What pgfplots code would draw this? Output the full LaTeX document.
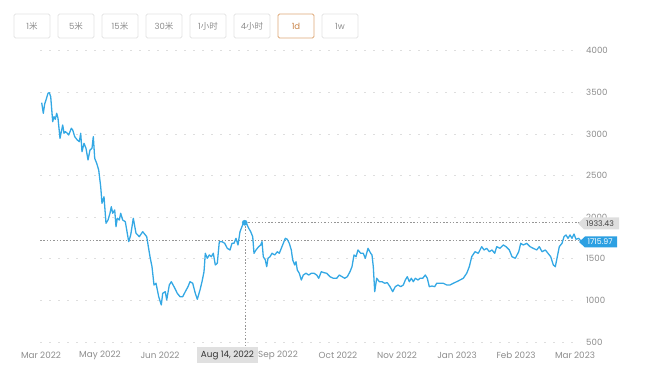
\documentclass[border=0pt]{standalone}
\usepackage{pgfplots}
\pgfplotsset{compat=1.18}
\usepackage{fontspec}
\setmainfont{Poppins}
\newfontfamily\cjk{Noto Sans CJK SC}
\definecolor{linecol}{RGB}{52,168,228}
\definecolor{tagblue}{RGB}{45,160,226}
\definecolor{txt}{RGB}{140,140,140}
\definecolor{gridc}{RGB}{222,222,222}
\definecolor{refc}{RGB}{150,150,150}
\definecolor{btnb}{RGB}{228,228,228}
\definecolor{orangeb}{RGB}{222,168,118}
\definecolor{oranget}{RGB}{200,130,70}
\newcommand{\px}[2]{({#1pt},{374pt-#2pt})}
\begin{document}
\begin{tikzpicture}
\path[use as bounding box] (0,0) rectangle (660pt,374pt);
\begin{axis}[scale only axis, width=660pt, height=374pt,
  xmin=0, xmax=660, ymin=115.385, ymax=4610.58,
  axis lines=none, ticks=none, clip=false]
% grid lines
\foreach \v in {500,1000,...,4000}{
  \edef\tmp{\noexpand\draw[gridc, line width=0.9pt, dash pattern=on 2pt off 7pt] (axis cs:40,\v) -- (axis cs:580,\v);}
  \tmp
}
% reference lines
\draw[refc, line width=0.9pt, dash pattern=on 1.5pt off 1.8pt] (axis cs:40,1715.97) -- (axis cs:580,1715.97);
\draw[refc, line width=0.9pt, dash pattern=on 1.5pt off 1.8pt] (axis cs:245,1933.43) -- (axis cs:580,1933.43);
\draw[refc, line width=0.9pt, dash pattern=on 1.5pt off 1.8pt] (axis cs:245,1933.43) -- (axis cs:245,452);
% y labels
\foreach \v in {500,1000,...,4000}{
  \edef\tmp{\noexpand\node[anchor=west, text=txt, font=\noexpand\fontsize{8.6}{10}\noexpand\selectfont, inner sep=0pt] at (axis cs:586,\v) {\v};}
  \tmp
}
\addplot[color=linecol, line width=1.3pt, line join=round] coordinates {
(41.7,3376) (43.3,3249) (44.7,3361) (46,3409) (48,3489) (49.3,3497) (50.7,3449)
(52.7,3148) (54,3208) (55.3,3177) (56.7,3249) (58,3189) (60,2948) (61.3,3028)
(62.7,3108) (64,3009) (65.3,3028) (67.3,3009) (68.7,2988) (70,3028) (71.3,3069)
(72.7,3048) (74.7,2968) (77.3,2928) (79.3,2908) (80.7,3009) (82,2787) (84,2888)
(86,2828) (88,2688) (90,2808) (92,2828) (93.3,2968) (94.7,2708) (96.7,2648)
(98.7,2567) (100.7,2367) (102,2167) (104,2246) (106,1927) (108,1966) (110,2047)
(111.3,2126) (112.7,2047) (114.7,2087) (116,1886) (117.3,1987) (119.3,1966)
(120.7,2047) (122.7,1966) (125.3,1946) (128.7,1706) (130.7,1786) (133.3,1987)
(136,1807) (139.3,1766) (142.7,1826) (146.7,1766) (150,1525) (152,1405) (154,1185)
(156,1206) (158.7,1045) (161.3,945) (162.7,1085) (165.3,1105) (166.7,1005)
(169.3,1185) (171.3,1225) (174,1165) (177.3,1085) (180,1045) (182.7,1045)
(185.3,1105) (188,1165) (190,1225) (192.7,1206) (195.3,1085) (197.3,1013)
(200,1125) (202,1225) (204,1345) (205.3,1566) (207.3,1506) (209.3,1546)
(211.3,1525) (213.3,1566) (215.3,1426) (217.3,1446) (219.3,1706) (222,1706)
(224.7,1686) (227.3,1626) (230,1606) (232,1686) (234,1686) (236,1746) (238,1666)
(240,1826) (242.7,1910) (244.7,1950) (246.7,1918) (248.7,1867) (250.7,1826)
(252.7,1766) (254,1566) (256,1606) (258.7,1646) (260.7,1666) (262,1706)
(263.3,1525) (265.3,1486) (266.7,1405) (268,1506) (270,1525) (272,1566)
(274.7,1546) (277.3,1585) (279.3,1566) (281.3,1626) (283.3,1686) (285.3,1746)
(287.3,1734) (289.3,1686) (291.3,1606) (292.7,1486) (294.7,1426) (296,1465)
(297.3,1365) (299.3,1326) (301.3,1245) (303.3,1305) (306,1326) (308.7,1305)
(311.3,1326) (314,1326) (316.7,1305) (318.7,1266) (321.3,1345) (324,1333)
(326.7,1326) (330,1285) (333.3,1266) (336.7,1266) (339.3,1305) (342,1285)
(344.7,1266) (347.3,1285) (350,1345) (352,1405) (354,1546) (356,1525) (358,1606)
(360.7,1566) (363.3,1566) (365.3,1506) (368,1626) (370.7,1566) (372,1546)
(373.3,1405) (374.7,1105) (376.7,1266) (379.3,1225) (382,1225) (384.7,1206)
(387.3,1213) (390,1165) (392.7,1105) (395.3,1165) (398,1185) (400.7,1165)
(403.3,1185) (405.3,1245) (407.3,1285) (409.3,1225) (411.3,1266) (413.3,1225)
(415.3,1266) (418,1245) (420,1266) (422.7,1266) (425.3,1305) (427.3,1266)
(429.3,1165) (432,1173) (434.7,1165) (436.7,1206) (440,1206) (443.3,1206)
(446.7,1185) (450,1185) (453.3,1206) (456.7,1225) (460,1245) (463.3,1266)
(466.7,1326) (469.3,1405) (471.7,1525) (475,1585) (478.3,1566) (481.7,1646)
(484,1606) (486.7,1626) (489.3,1585) (492,1606) (494.7,1566) (496.7,1646)
(500,1626) (503.3,1666) (506,1646) (509.3,1606) (512,1525) (515.3,1506)
(518.7,1585) (520.7,1686) (523.3,1666) (526.7,1686) (530,1646) (533.3,1626)
(536.7,1606) (539.3,1646) (542,1585) (545.3,1606) (548,1566) (550.7,1525)
(553.3,1426) (555.3,1405) (557.3,1525) (559.3,1646) (562,1686) (564,1766)
(566,1786) (568,1746) (570,1786) (572,1746) (574,1798) (576,1734) (578.7,1746)
(580.7,1715.97)
};
\addplot[only marks, mark=*, mark size=2.6pt, color=linecol] coordinates {(244.7,1933.43)};
\end{axis}
% x labels
\begin{scope}[every node/.style={text=txt, font=\fontsize{8.8}{10}\selectfont, inner sep=0pt}]
\node at \px{41}{355} {Mar 2022};
\node at \px{100}{355} {May 2022};
\node at \px{160}{355} {Jun 2022};
\node at \px{278}{355} {Sep 2022};
\node at \px{338}{355} {Oct 2022};
\node at \px{397}{355} {Nov 2022};
\node at \px{457}{355} {Jan 2023};
\node at \px{516}{355} {Feb 2023};
\node at \px{575}{355} {Mar 2023};
\end{scope}
\fill[black!12] \px{197}{347} rectangle \px{258}{363};
\node[text=black!80, font=\fontsize{8.8}{10}\selectfont, inner sep=0pt] at \px{227.5}{355} {Aug 14, 2022};
% value tags
\fill[black!13] \px{578}{223.5} -- \px{584}{217.5} -- \px{619}{217.5} -- \px{619}{229.5} -- \px{584}{229.5} -- cycle;
\node[text=black!75, font=\fontsize{7.8}{9}\selectfont, inner sep=0pt, anchor=west] at \px{586}{223.5} {1933.43};
\fill[tagblue] \px{579}{242} -- \px{585}{236.5} -- \px{617}{236.5} -- \px{617}{247.5} -- \px{585}{247.5} -- cycle;
\node[text=white, font=\fontsize{7.8}{9}\selectfont, inner sep=0pt, anchor=west] at \px{587.5}{242} {1715.97};
% buttons
\foreach \x/\lab in {14/{1{\cjk 米}}, 58/{5{\cjk 米}}, 102/{15{\cjk 米}}, 146/{30{\cjk 米}}, 190/{1{\cjk 小时}}, 234/{4{\cjk 小时}}, 322/{1w}}{
  \draw[btnb, line width=0.8pt, rounded corners=1.5pt] \px{\x}{14} rectangle \px{\x+36}{38};
  \node[text=txt, font=\fontsize{8.5}{10}\selectfont, inner sep=0pt] at \px{\x+18}{26} {\lab};
}
\draw[orangeb, line width=0.8pt, rounded corners=1.5pt] \px{278}{14} rectangle \px{314}{38};
\node[text=oranget, font=\fontsize{8.5}{10}\selectfont, inner sep=0pt] at \px{296}{26} {1d};
\end{tikzpicture}
\end{document}
